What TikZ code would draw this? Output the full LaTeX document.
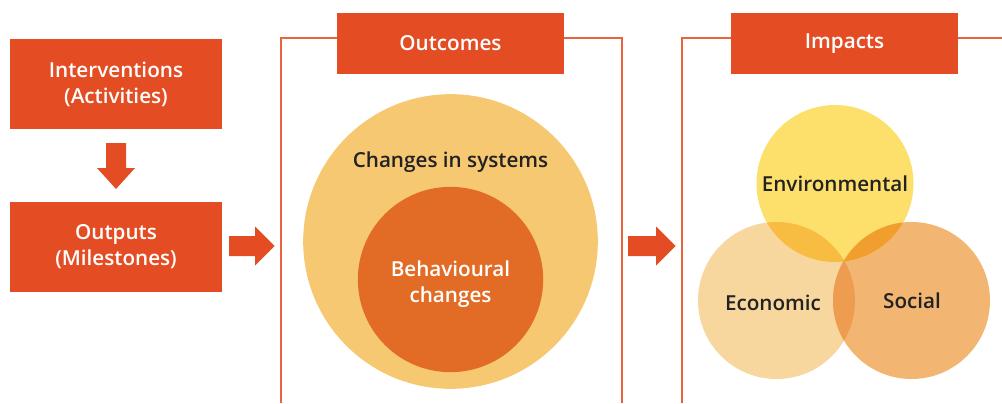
\documentclass[tikz,border=0pt]{standalone}
\usepackage{fontspec}
\setmainfont{Open Sans}[BoldFont={Open Sans Semibold}]
\usetikzlibrary{positioning}
\definecolor{brick}{HTML}{E44D24}
\definecolor{framered}{HTML}{E8643F}
\definecolor{systems}{HTML}{F6C872}
\definecolor{behaviour}{HTML}{E26C25}
\definecolor{envcol}{HTML}{FDE06B}
\definecolor{ecocol}{HTML}{F8D79E}
\definecolor{soccol}{HTML}{F3B572}
\definecolor{enveco}{HTML}{F8BC42}
\definecolor{envsoc}{HTML}{F09F2E}
\definecolor{ecosoc}{HTML}{EE9C4F}
\definecolor{darktext}{HTML}{222222}
\tikzset{stagebox/.style={fill=brick,text=white,align=center,inner sep=0pt,minimum width=159pt,minimum height=67.5pt,font=\bfseries\fontsize{15.5}{19.5}\selectfont},
  headbox/.style={fill=brick,text=white,inner sep=0pt,minimum width=170pt,minimum height=45.75pt,font=\bfseries\fontsize{15.5}{18}\selectfont},
  frame/.style={draw=framered,line width=1.1pt},
  blob/.style={circle,inner sep=0pt},
  tag/.style={text=darktext,align=center,font=\bfseries\fontsize{15.5}{19}\selectfont}}
\newcommand{\blockright}[3]{\fill[brick] (#1,#2) ++(0,-10) -- ++(#3,0) -- ++(0,-9.5) -- ++(19.5,19.5) -- ++(-19.5,19.5) -- ++(0,-9.5) -- ++(-#3,0) -- cycle;}

\begin{document}
\begin{tikzpicture}[x=0.75pt,y=-0.75pt]
\useasboundingbox (0,0) rectangle (1002,403);
% Activities feeding the outputs.
\node[stagebox] (interv) at (116,84) {Interventions\\(Activities)};
\node[stagebox] (outputs) at (116,246.5) {Outputs\\(Milestones)};
\fill[brick] (106,143)--(126,143)--(126,168)--(135,168)--(116,189)--(97,168)--(106,168)--cycle;
\blockright{229}{246}{26}
% Outcomes panel: nested circles under a header.
\node[headbox] (outcomes) at (450.5,43.5) {Outcomes};
\draw[frame] (281,403)--(281,38)--(outcomes.west|-0,38);
\draw[frame] (outcomes.east|-0,38)--(622,38)--(622,403);
\node[blob,fill=systems,minimum size=221pt] (systems) at (450.5,241.5) {};
\node[blob,fill=behaviour,minimum size=139pt] (behav) at (450.5,279.5) {};
\node[tag] at (450.5,162) {Changes in systems};
\node[tag,text=white] at (450.5,284) {Behavioural\\changes};
\blockright{628}{246}{28}
% Impacts panel: three overlapping circles.
\node[headbox] (impacts) at (844.5,43.5) {Impacts};
\draw[frame] (1002,38)--(impacts.east|-0,38);
\draw[frame] (impacts.west|-0,38)--(682,38)--(682,403);
\node[blob,fill=ecocol,minimum size=117.75pt] (eco) at (776.5,300.5) {};
\node[blob,fill=soccol,minimum size=117.75pt] (soc) at (911.5,300.5) {};
\node[blob,fill=envcol,minimum size=117.75pt] (env) at (835,183.5) {};
\begin{scope}
  \clip (eco.center) circle (58.875pt);
  \fill[enveco] (env.center) circle (58.875pt);
  \fill[ecosoc] (soc.center) circle (58.875pt);
\end{scope}
\begin{scope}
  \clip (env.center) circle (58.875pt);
  \fill[envsoc] (soc.center) circle (58.875pt);
\end{scope}
\node[tag] at (env) {Environmental};
\node[tag] at (773,302.5) {Economic};
\node[tag] at (912,301) {Social};
\end{tikzpicture}
\end{document}
